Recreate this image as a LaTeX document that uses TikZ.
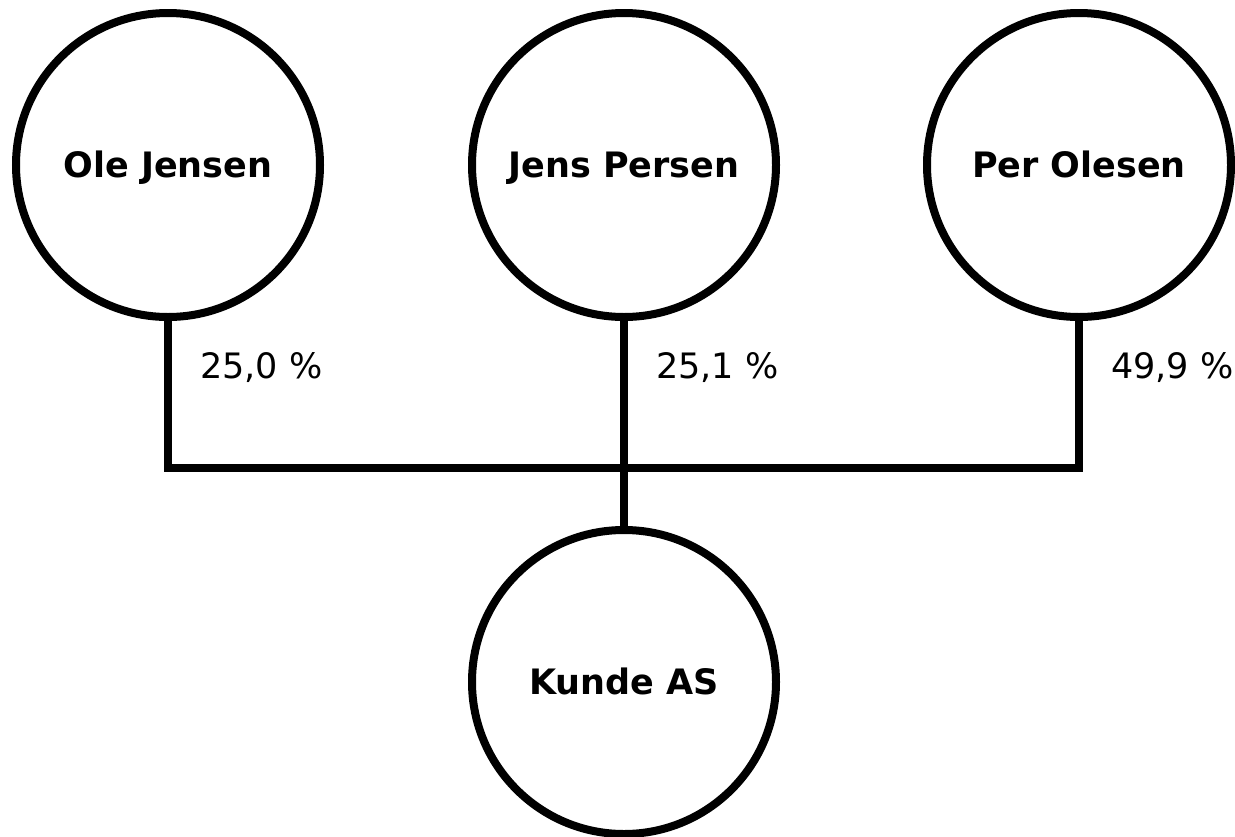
\documentclass[tikz,border=0pt]{standalone}
\usepackage{fontspec}
\setmainfont{DejaVu Sans}
\begin{document}
\begin{tikzpicture}[x=1pt,y=-1pt,
  party/.style={circle,draw,line width=8pt,minimum size=304pt,inner sep=0pt,
    text height=25.5pt,text depth=0pt,
    font=\fontsize{35}{40}\selectfont\bfseries},
  share/.style={anchor=base west,inner sep=0pt,font=\fontsize{35}{40}\selectfont},
  link/.style={line width=8pt,line join=miter}]
\useasboundingbox (0,0) rectangle (1235,836);
\node[party] (ole)   at (168,165) {Ole Jensen};
\node[party] (jens)  at (624,165) {Jens Persen};
\node[party] (per)   at (1079,165) {Per Olesen};
\node[party] (kunde) at (624,682) {Kunde AS};
\coordinate (bus) at (624,468);
\draw[link] (ole.south) |- (bus) -| (per.south);
\draw[link] (jens.south) -- (kunde.north);
\node[share] (s1) at (200,378) {25,0 \%};
\node[share] (s2) at (656,378) {25,1 \%};
\node[share] (s3) at (1111,378) {49,9 \%};
\end{tikzpicture}
\end{document}
